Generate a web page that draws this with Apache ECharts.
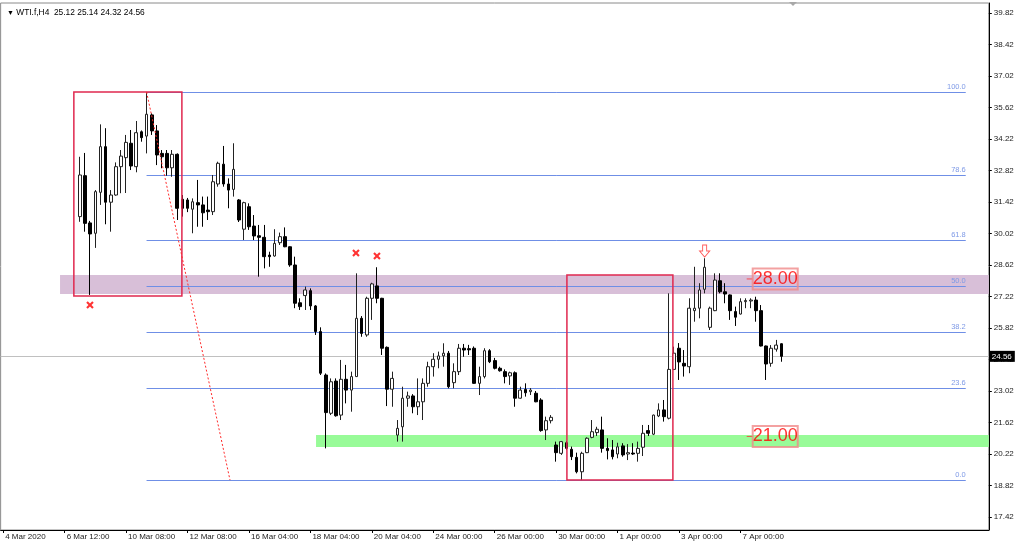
<!DOCTYPE html>
<html><head><meta charset="utf-8">
<script src="https://cdn.jsdelivr.net/npm/echarts@6/dist/echarts.min.js"></script>
<style>html,body{margin:0;padding:0;background:#fff}#c{width:1024px;height:547px}</style>
</head><body><div id="c"></div>
<script>
// ---------- data ----------
const symbolName = 'WTI.f,H4';
const firstSlot = 15;          // empty H4 slots before the first candle
const totalSlots = 193;        // visible H4 slots
const labelEvery = 12;         // one time label every 12 bars
const dateLabels = ['4 Mar 2020','6 Mar 12:00','10 Mar 08:00','12 Mar 08:00','16 Mar 04:00','18 Mar 04:00',
  '20 Mar 04:00','24 Mar 00:00','26 Mar 00:00','30 Mar 00:00','1 Apr 00:00','3 Apr 00:00','7 Apr 00:00'];
const yTicks = [17.42,18.82,20.22,21.62,23.02,24.42,25.82,27.22,28.62,30.02,31.42,32.82,34.22,35.62,37.02,38.42,39.82];
const yMin = 16.842, yMax = 40.264;

const openP = [30.77,32.59,30.49,30.03,31.85,33.88,31.41,31.73,32.99,33.39,34.03,32.99,34.54,34.35,35.29,34.58,33.58,33.58,32.94,33.54,
31.54,31.51,31.10,31.39,31.29,31.06,30.99,32.22,33.10,32.22,31.98,31.51,30.21,31.21,30.35,29.92,29.85,29.06,29.02,29.61,
29.88,29.43,28.62,26.94,27.26,27.48,26.80,25.66,23.73,22.03,23.46,21.95,23.54,23.06,23.66,26.25,25.51,27.14,27.69,27.14,
24.96,23.10,21.06,21.43,22.70,22.80,22.32,22.54,23.36,24.10,24.43,24.58,24.70,23.39,23.88,24.92,24.90,24.92,23.36,23.66,
24.81,24.37,24.03,23.88,23.69,23.83,22.70,23.09,22.99,22.92,22.62,21.29,21.70,20.62,20.25,20.72,20.43,20.07,19.43,20.28,
20.96,21.17,21.29,20.47,20.40,20.22,20.58,20.22,20.26,20.25,20.52,21.26,21.10,21.91,22.18,21.81,23.98,24.92,24.25,24.10,
26.59,26.70,27.54,25.85,26.59,27.92,27.43,27.29,26.55,26.44,26.99,27.02,27.06,26.59,25.02,24.25,24.88,25.12];
const highP = [33.43,33.60,30.58,31.95,34.87,34.70,31.95,33.18,33.73,34.40,34.62,35.02,34.60,36.31,35.36,34.84,33.73,33.73,33.73,33.58,
31.73,31.60,31.58,32.40,31.66,31.66,32.62,33.21,33.91,32.47,34.03,31.55,31.43,31.36,30.84,30.40,30.40,29.21,30.21,30.06,
30.29,29.45,28.99,27.14,27.66,27.58,26.84,25.85,23.80,23.58,23.58,24.40,24.18,23.88,28.25,26.35,27.21,27.83,28.52,27.16,
25.00,23.88,21.73,23.21,22.99,22.88,23.58,23.58,24.32,24.70,24.77,25.14,24.80,24.25,25.11,25.11,25.07,25.00,24.10,24.92,
24.88,24.49,24.10,23.98,23.88,23.89,23.21,23.36,23.15,23.02,22.70,21.88,21.95,20.77,20.80,20.80,20.55,20.28,20.32,20.96,
21.73,21.43,21.88,20.92,20.84,20.72,20.70,20.66,20.70,20.77,21.51,21.51,21.97,22.47,22.62,27.36,24.99,25.15,24.84,27.14,
28.54,27.81,28.92,26.77,28.25,28.25,27.81,27.31,26.77,27.14,27.14,27.14,27.21,26.84,25.04,25.06,25.29,25.14];
const lowP = [30.54,30.10,27.29,29.38,31.29,30.43,30.10,31.70,31.81,31.82,32.84,32.74,34.10,33.58,34.40,33.06,32.92,32.59,32.54,30.62,
30.77,30.97,30.03,30.32,30.32,30.62,30.84,32.10,32.10,31.14,31.66,30.53,29.73,30.18,29.73,28.10,28.47,28.54,28.99,29.51,
29.41,28.54,26.70,26.62,26.62,26.62,25.51,23.73,20.47,21.95,21.88,21.73,22.47,22.10,23.64,25.43,25.43,26.18,26.92,24.62,
22.35,22.32,20.77,20.77,22.32,22.03,21.95,21.73,23.21,23.66,24.03,24.10,23.14,23.14,23.73,24.54,24.62,23.34,22.84,23.58,
24.26,23.98,23.88,23.36,23.29,22.32,22.68,22.77,22.84,22.52,21.21,20.84,21.58,19.88,20.18,20.40,19.95,19.36,19.06,20.26,
20.92,21.02,20.28,19.98,19.98,20.03,20.10,19.95,20.18,19.88,20.13,21.02,21.06,21.86,21.66,21.76,23.95,23.51,23.66,23.81,
26.10,26.25,27.36,25.73,26.57,27.36,26.92,26.18,25.91,26.42,26.70,26.70,26.10,25.00,23.51,24.10,24.77,24.32];
const closeP = [32.62,30.47,30.00,31.88,33.88,31.41,31.73,32.99,33.46,34.07,33.02,34.50,34.28,35.32,34.58,33.51,33.43,32.94,33.54,31.14,
31.14,31.14,31.43,31.29,30.94,30.99,32.32,33.14,32.22,31.95,32.87,30.62,31.39,30.32,29.91,29.85,28.99,28.99,29.58,29.88,
29.43,28.62,26.92,26.77,27.51,26.80,25.66,23.81,22.06,23.43,21.92,23.54,23.06,23.66,26.25,25.58,27.14,27.78,27.14,24.92,
23.10,23.58,21.36,22.70,22.80,22.32,22.54,23.36,24.10,24.43,24.58,24.70,23.21,23.88,24.92,24.84,24.85,23.36,23.66,24.81,
24.32,24.03,23.92,23.66,23.83,22.70,23.06,22.94,23.06,22.54,21.26,21.70,21.85,20.28,20.77,20.47,20.10,19.43,20.25,20.92,
21.21,21.32,20.47,20.37,20.10,20.54,20.18,20.28,20.22,20.47,21.14,21.14,21.95,22.18,21.88,23.98,24.70,24.31,24.13,26.70,
26.70,27.51,28.52,26.70,27.95,27.43,27.33,26.59,26.30,26.99,27.04,27.06,26.59,25.02,24.22,24.92,25.06,24.56];

// annotations, in bar index (0 = first candle) and price units
const fibHigh = 36.31, fibLow = 19.06;
const fibLevels = [0, 23.6, 38.2, 50, 61.8, 78.6, 100];
const fibStartBar = 13, fibEndBar = 173;
const trendLine = [[13, 36.31], [29.3, 19.06]];
const zones = [[-3.9, 177.5, 27.33, 28.17], [46.1, 177.5, 20.53, 21.06]];
const boxes = [[-1.2, 19.9, 27.24, 36.31], [95.1, 115.8, 19.06, 28.18]];
const crossMarks = [[1.95, 26.84], [53.9, 29.15], [58, 29.02]];
const arrowMarks = [[122, 29.24]];
const priceTags = [[130.8, 28.00], [130.8, 21.00]];

// ---------- build ----------
const last = closeP.length - 1;
const cats = [];
for (let s = 0; s < totalSlots; s++) {
  const j = s / labelEvery;
  cats.push(Number.isInteger(j) && j < dateLabels.length ? dateLabels[j] : 's' + s);
}
const showLbl = (idx) => idx % labelEvery === 0 && idx / labelEvery < dateLabels.length;
const candles = openP.map((o, k) => [k + firstSlot, o, closeP[k], lowP[k], highP[k]]);
const zoneColors = ['#d8bfd8', '#98fb98'];
const FONT = 'Liberation Sans';

const chart = echarts.init(document.getElementById('c'), null, {renderer: 'canvas'});
chart.setOption({
  animation: false,
  backgroundColor: '#ffffff',
  title: {
    text: '{a|▼} ' + symbolName + '  ' + [openP[last], highP[last], lowP[last], closeP[last]].map(v => v.toFixed(2)).join(' '),
    left: 2, top: 4,
    textStyle: {fontSize: 8.4, fontWeight: 'normal', color: '#000', fontFamily: FONT,
      rich: {a: {fontSize: 7, color: '#000'}}}
  },
  grid: {left: 0.64, top: 3, width: 988.16, height: 527, show: true, borderColor: '#8a8a8a', borderWidth: 1, backgroundColor: '#fff'},
  xAxis: [{
    type: 'category', data: cats, boundaryGap: true,
    axisLine: {show: true, onZero: false, lineStyle: {color: '#000', width: 1}},
    axisTick: {show: true, interval: showLbl, alignWithLabel: true, length: 3, lineStyle: {color: '#000'}},
    axisLabel: {interval: showLbl, align: 'left', fontSize: 8, color: '#222', fontFamily: FONT, margin: 3, padding: [0, 0, 0, 2]},
    splitLine: {show: false}
  }, {
    type: 'value', min: -firstSlot - 0.5, max: totalSlots - firstSlot - 0.5, show: false
  }],
  yAxis: [{
    type: 'value', position: 'right', min: yMin, max: yMax, scale: true,
    axisLine: {show: true, onZero: false, lineStyle: {color: '#000', width: 1}},
    axisTick: {show: true, length: 3, customValues: yTicks, lineStyle: {color: '#000'}},
    axisLabel: {customValues: yTicks, formatter: v => v.toFixed(2), fontSize: 8, color: '#222', fontFamily: FONT, margin: 5, hideOverlap: false},
    splitLine: {show: false}
  }],
  series: [
    {
      type: 'custom', name: 'zones', xAxisIndex: 1, yAxisIndex: 0, z: 1, silent: true,
      data: zones,
      renderItem: (p, api) => {
        const a = api.coord([api.value(0), api.value(3)]);
        const b = api.coord([api.value(1), api.value(2)]);
        return {type: 'rect', shape: {x: a[0], y: a[1], width: b[0] - a[0], height: b[1] - a[1]},
          style: {fill: zoneColors[p.dataIndex]}};
      }
    },
    {
      type: 'custom', name: 'fib', xAxisIndex: 1, yAxisIndex: 0, z: 2, silent: true,
      data: fibLevels.map(l => [l]),
      renderItem: (p, api) => {
        const lvl = api.value(0);
        const price = fibLow + (fibHigh - fibLow) * lvl / 100;
        const a = api.coord([fibStartBar, price]);
        const b = api.coord([fibEndBar, price]);
        const y = Math.round(a[1]) + 0.5;
        return {type: 'group', children: [
          {type: 'line', shape: {x1: a[0], y1: y, x2: b[0], y2: y}, style: {stroke: '#6f8fe6', lineWidth: 1}},
          {type: 'text', x: b[0], y: y - 1.5, style: {text: lvl.toFixed(1), fill: '#7f9ae6', fontSize: 7.5, fontFamily: FONT, align: 'right', verticalAlign: 'bottom'}}
        ]};
      }
    },
    {
      type: 'candlestick', name: symbolName, xAxisIndex: 0, yAxisIndex: 0, z: 3,
      data: candles, encode: {x: 0, y: [1, 2, 3, 4]},
      barWidth: 3.2,
      itemStyle: {color: '#ffffff', color0: '#000000', borderColor: '#222222', borderColor0: '#000000', borderWidth: 1},
      markLine: {
        silent: true, symbol: ['none', 'none'], z: 2,
        data: [{yAxis: closeP[last]}],
        lineStyle: {color: '#c0c0c0', type: 'solid', width: 1},
        label: {position: 'end', formatter: closeP[last].toFixed(2), backgroundColor: '#000', color: '#fff',
          fontSize: 8, fontFamily: FONT, padding: [2, 3, 1, 2], distance: 1}
      }
    },
    {
      type: 'custom', name: 'boxes', xAxisIndex: 1, yAxisIndex: 0, z: 4, silent: true,
      data: boxes,
      renderItem: (p, api) => {
        const a = api.coord([api.value(0), api.value(3)]);
        const b = api.coord([api.value(1), api.value(2)]);
        return {type: 'rect', shape: {x: a[0], y: a[1], width: b[0] - a[0], height: b[1] - a[1]},
          style: {fill: 'none', stroke: '#e0284f', lineWidth: 1.5}};
      }
    },
    {
      type: 'line', name: 'fibTrend', xAxisIndex: 1, yAxisIndex: 0, z: 4, silent: true,
      data: trendLine, symbol: 'none',
      lineStyle: {color: '#ff2a2a', width: 1, type: [2, 2]}
    },
    {
      type: 'scatter', name: 'cross', xAxisIndex: 1, yAxisIndex: 0, z: 5, silent: true,
      data: crossMarks,
      symbol: 'path://M2,0 L5,3 L8,0 L10,2 L7,5 L10,8 L8,10 L5,7 L2,10 L0,8 L3,5 L0,2 Z',
      symbolSize: 7.5, itemStyle: {color: '#ff0000'}
    },
    {
      type: 'scatter', name: 'arrow', xAxisIndex: 1, yAxisIndex: 0, z: 5, silent: true,
      data: arrowMarks,
      symbol: 'path://M3,0 L7,0 L7,6 L10,6 L5,12 L0,6 L3,6 Z',
      symbolSize: [10, 12], itemStyle: {color: '#ffffff', borderColor: '#ff3030', borderWidth: 1}
    },
    {
      type: 'scatter', name: 'tags', xAxisIndex: 1, yAxisIndex: 0, z: 5, silent: true,
      data: priceTags,
      symbol: 'rect', symbolSize: [6, 1], itemStyle: {color: '#ff3030'},
      label: {show: true, position: 'right', distance: 0, formatter: p => p.value[1].toFixed(2),
        fontSize: 18, fontFamily: FONT, color: '#ff0000', backgroundColor: 'rgba(255,255,255,0)',
        textBorderWidth: 0, textShadowBlur: 0,
        borderColor: '#f08a8a', borderWidth: 1, padding: [2, 0, 1, 0], lineHeight: 18}
    }
  ],
  graphic: [{type: 'polygon', shape: {points: [[789, 2], [797, 2], [793, 6]]}, style: {fill: '#a8a8a8'}, z: 10}]
});
</script>
</body></html>
